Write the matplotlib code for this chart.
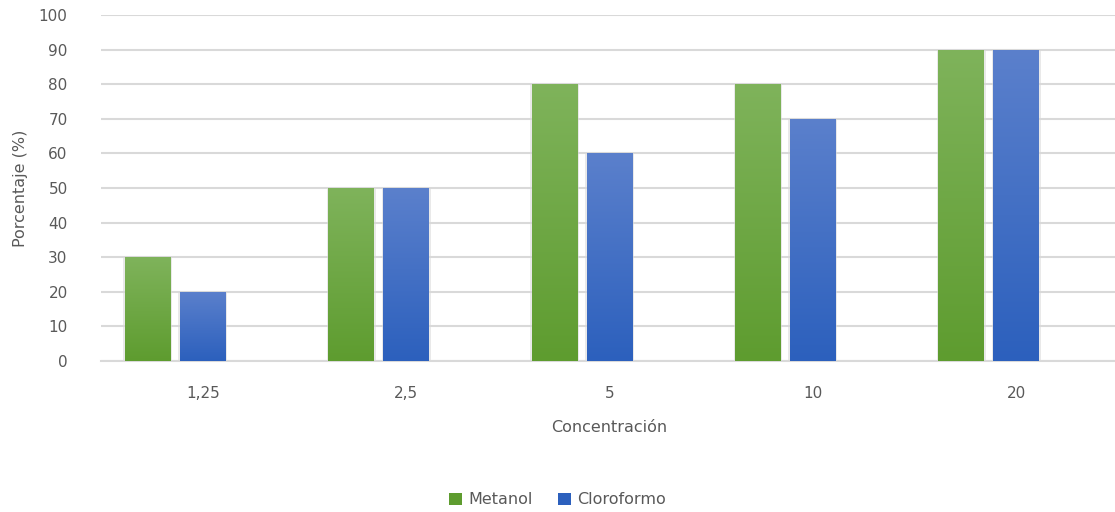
import numpy as np
import matplotlib
matplotlib.use("Agg")
import matplotlib.pyplot as plt
from matplotlib.colors import LinearSegmentedColormap
from matplotlib.patches import Patch

categories = ["1,25", "2,5", "5", "10", "20"]
metanol = [30, 50, 80, 80, 90]
cloroformo = [20, 50, 60, 70, 90]
series_names = ["Metanol", "Cloroformo"]

text_color = "#595959"
grid_color = "#d9d9d9"
green_top, green_bottom = "#7fb35b", "#5e9c2f"
blue_top, blue_bottom = "#5b80cc", "#2c60bd"

plt.rcParams["font.family"] = ["DejaVu Sans"]

fig = plt.figure(figsize=(11.15, 5.12), dpi=100)
ax = fig.add_axes([101 / 1115, 151 / 512, 1017 / 1115, 346 / 512])

x = np.arange(len(categories))
bar_w = 0.226
step = 0.27
offsets = [-step, 0.0]

ax.set_xlim(-0.5, len(categories) - 0.5)
ax.set_ylim(0, 100)

grad = np.linspace(0, 1, 256).reshape(-1, 1)


def gradient_bars(xpos, values, top, bottom):
    cmap = LinearSegmentedColormap.from_list("g", [bottom, top])
    # soft shadow behind each bar
    ax.bar(xpos, values, width=bar_w + 0.014, color="#d8d8d8", alpha=0.55, zorder=2)
    bars = ax.bar(xpos, values, width=bar_w, color=bottom, zorder=3)
    for b in bars:
        x0, y0 = b.get_x(), b.get_y()
        w, h = b.get_width(), b.get_height()
        im = ax.imshow(grad, extent=(x0, x0 + w, y0, y0 + h), origin="lower",
                       aspect="auto", cmap=cmap, zorder=4, interpolation="bilinear")
        im.set_clip_path(b)
    return bars


gradient_bars(x + offsets[0], metanol, green_top, green_bottom)
gradient_bars(x + offsets[1], cloroformo, blue_top, blue_bottom)

ax.set_xlim(-0.5, len(categories) - 0.5)
ax.set_ylim(0, 100)

ax.set_yticks(range(0, 101, 10))
ax.yaxis.grid(True, color=grid_color, linewidth=1.5, zorder=0)
ax.set_axisbelow(True)
ax.set_xticks(x)
ax.set_xticklabels(categories)

for s in ["top", "right", "left"]:
    ax.spines[s].set_visible(False)
ax.spines["bottom"].set_color(grid_color)
ax.spines["bottom"].set_linewidth(1.5)

ax.tick_params(axis="both", length=0, labelsize=11, colors=text_color)
ax.tick_params(axis="y", pad=24)
ax.tick_params(axis="x", pad=18)

ax.set_xlabel("Concentración", fontsize=11.5, color=text_color, labelpad=14)
ax.set_ylabel("Porcentaje (%)", fontsize=11.5, color=text_color, labelpad=8)

handles = [Patch(facecolor=green_bottom, label=series_names[0]),
           Patch(facecolor=blue_bottom, label=series_names[1])]
fig.legend(handles=handles, loc="center", bbox_to_anchor=(0.5, 1 - 500 / 512),
           ncol=2, frameon=False, fontsize=11.5, labelcolor=text_color,
           handlelength=0.8, handleheight=0.8, handletextpad=0.4, columnspacing=1.6)

fig.savefig("out.png", dpi=100)
